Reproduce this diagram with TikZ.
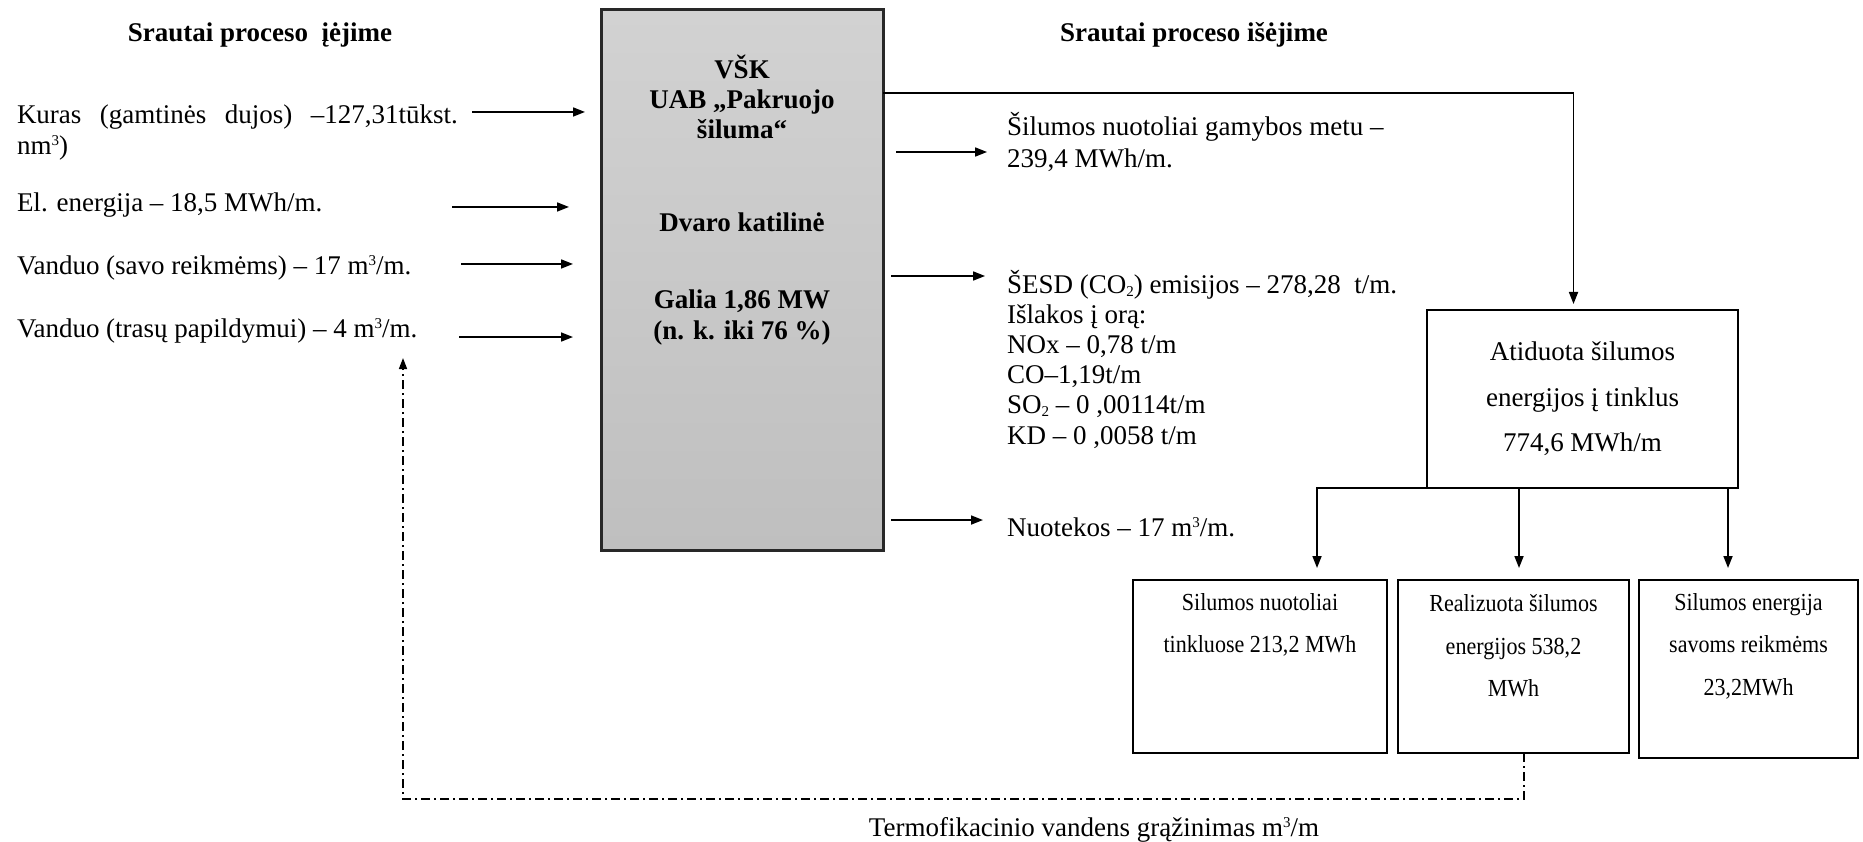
\documentclass[tikz,border=0pt]{standalone}
\usepackage{fontspec}
\setmainfont{Liberation Serif}
\newfontfamily\condserif{Liberation Serif}[FakeStretch=0.9]
\usetikzlibrary{arrows.meta}
\definecolor{boxtop}{RGB}{210,210,210}
\definecolor{boxbot}{RGB}{191,191,191}
\definecolor{boxline}{RGB}{40,40,40}
\newcommand{\myupthree}{\raisebox{0.75ex}{\fontsize{15}{15}\selectfont 3}}
\newcommand{\mydowntwo}{\raisebox{-0.25ex}{\fontsize{15}{15}\selectfont 2}}
\begin{document}
\begin{tikzpicture}[x=1pt,y=-1pt,
  every node/.style={inner sep=0pt, outer sep=0pt},
  txt/.style={font=\fontsize{27}{31}\selectfont, align=left, anchor=west},
  ttl/.style={font=\fontsize{27}{31}\selectfont\bfseries},
  btxt/.style={font=\fontsize{27}{30}\selectfont\bfseries, align=center},
  ctxt/.style={font=\fontsize{24.5}{42.5}\condserif, align=center},
  wbox/.style={draw, line width=2.2pt, rectangle, fill=white},
  arr/.style={line width=1.7pt, -{Triangle[length=12pt,width=9pt]}},
  dashdot/.style={line width=1.5pt, dash pattern=on 9pt off 4pt on 2pt off 4pt}
]
\fill[white] (0,0) rectangle (1863,842);
\useasboundingbox (0,0) rectangle (1863,842);

% titles
\node[ttl] (tl) at (260,35) {Srautai proceso\ \ įėjime};
\node[ttl] (tr) at (1194,35) {Srautai proceso išėjime};

% main box
\node[draw=boxline, line width=3pt, top color=boxtop, bottom color=boxbot,
      minimum width=282pt, minimum height=540pt, anchor=north west] (main) at (601,10) {};
\node[btxt] (mt1) at (742,97) {VŠK\\UAB „Pakruojo\\šiluma“};
\node[btxt] (mt2) at (742,222) {Dvaro katilinė};
\node[btxt, font=\fontsize{27}{31}\selectfont\bfseries] (mt3) at (742,318) {Galia 1,86 MW\\(n. k. iki 76 \%)};

% left inputs
\node[txt] (kuras) at (17,133) {\makebox[441pt][s]{Kuras (gamtinės dujos) –127,31tūkst.}\\nm\myupthree)};
\node[txt] (el) at (17,205) {El. energija – 18,5 MWh/m.};
\node[txt] (vs) at (17,268) {Vanduo (savo reikmėms) – 17 m\myupthree/m.};
\node[txt] (vt) at (17,331) {Vanduo (trasų papildymui) – 4 m\myupthree/m.};

\coordinate (ka) at (472,112); \coordinate (kb) at (585,112);
\coordinate (ea) at (452,207); \coordinate (eb) at (569,207);
\coordinate (va) at (461,264); \coordinate (vb) at (573,264);
\coordinate (ta) at (459,337); \coordinate (tb) at (573,337);
\draw[arr] (ka) -- (kb);
\draw[arr] (ea) -- (eb);
\draw[arr] (va) -- (vb);
\draw[arr] (ta) -- (tb);

% right outputs
\node[txt, font=\fontsize{27}{32}\selectfont] (siln) at (1007,142) {Šilumos nuotoliai gamybos metu –\\239,4 MWh/m.};
\node[txt, font=\fontsize{27}{30.2}\selectfont] (sesd) at (1007,359) {ŠESD (CO\mydowntwo) emisijos – 278,28\ \ t/m.\\Išlakos į orą:\\NOx – 0,78 t/m\\CO–1,19t/m\\SO\mydowntwo{} – 0 ,00114t/m\\KD – 0 ,0058 t/m};
\node[txt] (nuot) at (1007,527) {Nuotekos – 17 m\myupthree/m.};

\coordinate (o1a) at (896,152); \coordinate (o1b) at (987,152);
\coordinate (o2a) at (891,276); \coordinate (o2b) at (985,276);
\coordinate (o3a) at (891,520); \coordinate (o3b) at (983,520);
\draw[arr] (o1a) -- (o1b);
\draw[arr] (o2a) -- (o2b);
\draw[arr] (o3a) -- (o3b);

% delivered heat box
\node[wbox, minimum width=311pt, minimum height=178pt, font=\fontsize{27}{45.5}\selectfont, align=center] (atid) at (1582.5,399) {Atiduota šilumos\\energijos į tinklus\\774,6 MWh/m};
\coordinate (mrow) at (883,93);
\draw[arr, shorten >=6pt] (main.east |- mrow) -| ([xshift=-9pt]atid.north);

% bottom boxes
\node[wbox, minimum width=254pt, minimum height=173pt] (b1) at (1260,666.5) {};
\node[wbox, minimum width=231pt, minimum height=173pt] (b2) at (1513.5,666.5) {};
\node[wbox, minimum width=219pt, minimum height=178pt] (b3) at (1748.5,669) {};
\node[ctxt] (b1t) at (1260,625) {Silumos nuotoliai\\tinkluose 213,2 MWh};
\node[ctxt] (b2t) at (1513.5,646) {Realizuota šilumos\\energijos 538,2\\MWh};
\node[ctxt] (b3t) at (1748.5,646) {Silumos energija\\savoms reikmėms\\23,2MWh};

\coordinate (b1x) at ([xshift=57pt]b1.north);
\coordinate (b2x) at ([xshift=5.5pt]b2.north);
\coordinate (b3x) at ([xshift=-20.5pt]b3.north);
\draw[arr, shorten >=12pt] (atid.south west) -| (b1x);
\draw[arr, shorten >=12pt] (atid.south -| b2x) -- (b2x);
\draw[arr, shorten >=12pt] (atid.south -| b3x) -- (b3x);

% return line
\coordinate (ret) at (403,358);
\draw[dashdot, -{Triangle[length=11pt,width=8pt]}] ([xshift=10.5pt]b2.south) -- ++(0,46) -| (ret);
\node[font=\fontsize{27}{31}\selectfont] (term) at (1094,830) {Termofikacinio vandens grąžinimas m\myupthree/m};
\end{tikzpicture}
\end{document}
